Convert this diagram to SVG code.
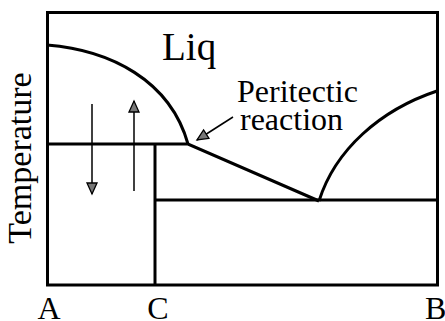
<svg xmlns="http://www.w3.org/2000/svg" width="445" height="321" viewBox="0 0 445 321">
<style>
.t{font-family:'Liberation Serif','DejaVu Serif','Times New Roman',serif;fill:#000}
.th{fill:none;stroke:#000;stroke-width:3}
.tn{fill:none;stroke:#000;stroke-width:1.5}
</style>
<defs>
<marker id="ah" markerWidth="14" markerHeight="14" refX="12" refY="6" orient="auto" markerUnits="userSpaceOnUse">
<path d="M1,1 L12,6 L1,11 Z" fill="#777" stroke="#000" stroke-width="1.3"/>
</marker>
</defs>
<rect width="445" height="321" fill="#fff"/>
<g id="frame"><rect x="47.5" y="12.5" width="390" height="272.5" class="th"/></g>
<g id="curves">
<path class="th" d="M47,45 C110,50 170,80 188,144"/>
<path class="th" d="M47,144 H188 L319,201"/>
<path class="th" d="M319,201 C335,150 380,110 437,91"/>
<path class="th" d="M155,144 V285"/>
<path class="th" d="M155,200 H437"/>
</g>
<g id="connectors">
<path class="tn" d="M92,104 V194" marker-end="url(#ah)"/>
<path class="tn" d="M134,191 V101" marker-end="url(#ah)"/>
<path class="tn" d="M233,117 L197,140" marker-end="url(#ah)"/>
</g>
<g id="labels">
<text class="t" x="162" y="60" font-size="39">Liq</text>
<text class="t" x="237" y="102" font-size="32">Peritectic</text>
<text class="t" x="240" y="130" font-size="32">reaction</text>
<text class="t" x="31" y="158" font-size="34" text-anchor="middle" transform="rotate(-90 31 158)">Temperature</text>
<text class="t" x="49" y="319" font-size="32" text-anchor="middle">A</text>
<text class="t" x="158" y="319" font-size="32" text-anchor="middle">C</text>
<text class="t" x="425" y="319" font-size="32">B</text>
</g>
</svg>
